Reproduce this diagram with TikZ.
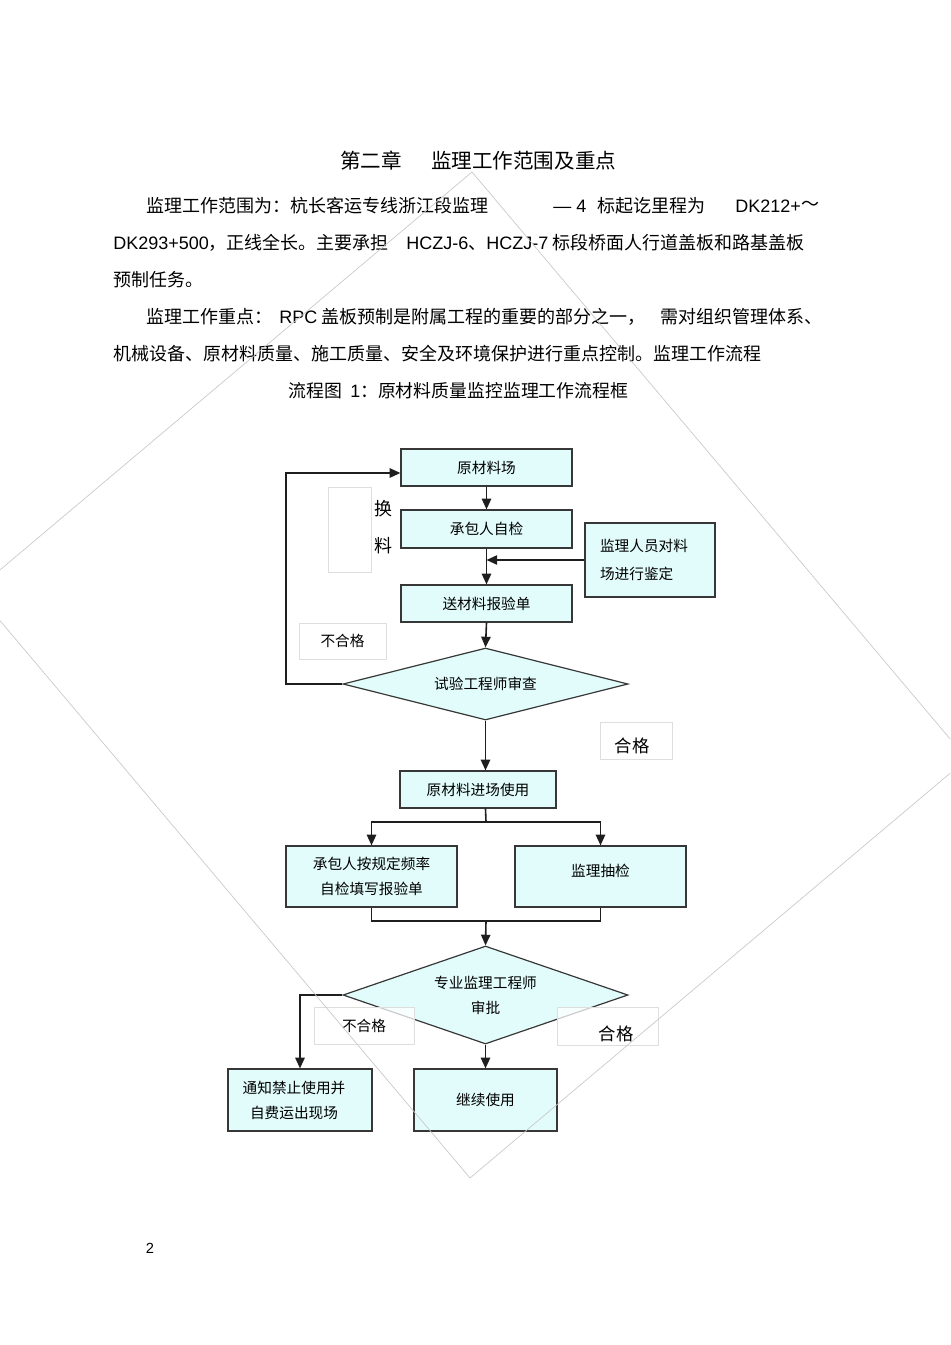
\documentclass[tikz,border=0pt]{standalone}
\usepackage{fontspec}
\setmainfont{Noto Sans CJK SC}
\newfontfamily\lat{Liberation Sans}
\usetikzlibrary{arrows.meta,shapes.geometric}
\definecolor{cyanf}{RGB}{226,252,252}
\definecolor{linec}{RGB}{30,30,30}
\definecolor{boxc}{RGB}{55,55,55}
\definecolor{lblc}{RGB}{222,222,222}
\definecolor{wmc}{RGB}{200,200,200}
\begin{document}
\begin{tikzpicture}[x=0.75pt,y=-0.75pt,
  body/.style={anchor=west,inner sep=0pt,font=\fontsize{13.5pt}{16pt}\selectfont},
  box/.style={draw=boxc,fill=cyanf,line width=0.9pt,inner sep=0pt,align=center,font=\fontsize{11pt}{18.75pt}\selectfont},
  dia/.style={diamond,draw=boxc,fill=cyanf,line width=0.9pt,inner sep=0pt,align=center,font=\fontsize{11pt}{18.75pt}\selectfont},
  lbl/.style={draw=lblc,fill=white,fill opacity=0.75,text opacity=1,line width=0.6pt,inner sep=0pt,font=\fontsize{11pt}{13pt}\selectfont},
  big/.style={inner sep=0pt,font=\fontsize{13pt}{15pt}\selectfont},
  arr/.style={draw=linec,line width=1.2pt,-{Triangle[length=8pt,width=7pt]}},
  ln/.style={draw=linec,line width=1.2pt},
  wm/.style={draw=wmc,line width=0.5pt}]
\useasboundingbox (0,0) rectangle (950,1345);

% ---------- heading and body text ----------
\node[body,font=\fontsize{15.4pt}{18pt}\selectfont] (t0a) at (340,161) {第二章};
\node[body,font=\fontsize{15.4pt}{18pt}\selectfont] (t0b) at (431,161) {监理工作范围及重点};

\node[body] (l1a) at (146,206) {监理工作范围为：杭长客运专线浙江段监理};
\node[body] (l1b) at (553,206) {{\lat — 4}};
\node[body] (l1c) at (597,206) {标起讫里程为};
\node[body] (l1d) at (735,206) {{\lat DK212+}};
\node[body] (l1e) at (801,206) {～};

\node[body] (l2a) at (113,243) {{\lat DK293+500}，正线全长。主要承担};
\node[body] (l2b) at (406,243) {{\lat HCZJ-6}、{\lat HCZJ-7} 标段桥面人行道盖板和路基盖板};

\node[body] (l3a) at (113,280) {预制任务。};

\node[body] (l4a) at (146,317) {监理工作重点：};
\node[body] (l4b) at (279,317) {{\lat RPC} 盖板预制是附属工程的重要的部分之一，};
\node[body] (l4c) at (660,317) {需对组织管理体系、};

\node[body] (l5a) at (113,354) {机械设备、原材料质量、施工质量、安全及环境保护进行重点控制。监理工作流程};

\node[body,font=\fontsize{13.4pt}{16pt}\selectfont] (c1a) at (288,391) {流程图};
\node[body,font=\fontsize{13.4pt}{16pt}\selectfont] (c1b) at (350,391) {{\lat 1}：原材料质量监控监理工作流程框};

% ---------- flowchart nodes ----------
\node[box,minimum width=171*0.75pt,minimum height=37*0.75pt] (b1) at (486.5,467.5) {原材料场};
\node[box,minimum width=171*0.75pt,minimum height=38*0.75pt] (b2) at (486.5,529) {承包人自检};
\node[box,minimum width=171*0.75pt,minimum height=37*0.75pt] (b3) at (486.5,603.5) {送材料报验单};
\node[box,align=left,font=\fontsize{11pt}{21pt}\selectfont,minimum width=130*0.75pt,minimum height=74*0.75pt] (side) at (650,560) {监理人员对料\hspace*{9pt}\\场进行鉴定};
\node[dia,aspect=3.96,minimum width=285*0.75pt,minimum height=72*0.75pt] (d1) at (485.5,684) {试验工程师审查};
\node[box,minimum width=156*0.75pt,minimum height=37*0.75pt] (b4) at (478,789.5) {原材料进场使用};
\node[box,minimum width=171*0.75pt,minimum height=61*0.75pt] (b5) at (371.5,876.5) {承包人按规定频率\\自检填写报验单};
\node[box,text depth=9pt,minimum width=171*0.75pt,minimum height=61*0.75pt] (b6) at (600.5,876.5) {监理抽检};
\node[dia,aspect=2.9,minimum width=285*0.75pt,minimum height=98*0.75pt] (d2) at (485.5,995) {专业监理工程师\\审批};
\node[box,minimum width=144*0.75pt,minimum height=62*0.75pt] (b7) at (300,1100) {通知禁止使用并\hspace*{9pt}\\自费运出现场\hspace*{9pt}};
\node[box,minimum width=143*0.75pt,minimum height=62*0.75pt] (b8) at (485.5,1100) {继续使用};

% ---------- connectors ----------
\draw[arr] (b1.south) -- (b2.north);
\draw[arr] (b2.south) -- (b3.north);
\draw[arr] (side.west) -- (side.west -| b2.south);
\draw[arr] (b3.south) -- (d1.north);
\coordinate (r1) at (286,473);
\draw[arr] (d1.west) -| (r1) -- (r1 -| b1.west);
\draw[arr] (d1.south) -- (d1.south |- b4.north);
\coordinate (s1) at (486,822);
\draw[ln] (d1.south |- b4.south) -- (s1);
\draw[arr] (s1) -| (b5.north);
\draw[arr] (s1) -| (b6.north);
\coordinate (m1) at (486,921);
\draw[ln] (b5.south) |- (m1) -| (b6.south);
\draw[arr] (m1) -- (d2.north);
\draw[arr] (d2.west) -| (b7.north);
\draw[arr] (d2.south) -- (b8.north);

% ---------- labels ----------
\node[lbl,minimum width=43*0.75pt,minimum height=85*0.75pt] (hbox) at (349.5,529.5) {};
\node[big,align=center,font=\fontsize{13.5pt}{27.75pt}\selectfont] (hl) at (383,527.5) {换\\料};
\node[lbl,minimum width=87*0.75pt,minimum height=36*0.75pt] (n1) at (342.5,641) {不合格};
\node[lbl,minimum width=72*0.75pt,minimum height=37*0.75pt] (g1box) at (636,740.5) {};
\node[big] (g1) at (632,746) {合格};
\node[lbl,minimum width=100*0.75pt,minimum height=37*0.75pt] (n2) at (364,1025.5) {不合格};
\node[lbl,minimum width=101*0.75pt,minimum height=38*0.75pt] (g2box) at (607.5,1026) {};
\node[big] (g2) at (616,1034) {合格};

% ---------- page number ----------
\node[inner sep=0pt,font=\lat\fontsize{11pt}{13pt}\selectfont] (pg) at (150,1248) {2};

% ---------- watermark frame ----------
\begin{scope}
\clip (0,0) rectangle (950,1345);
\draw[wm] (472,172) -- (967,759) -- (470,1178) -- (-25,591) -- cycle;
\end{scope}
\end{tikzpicture}
\end{document}
